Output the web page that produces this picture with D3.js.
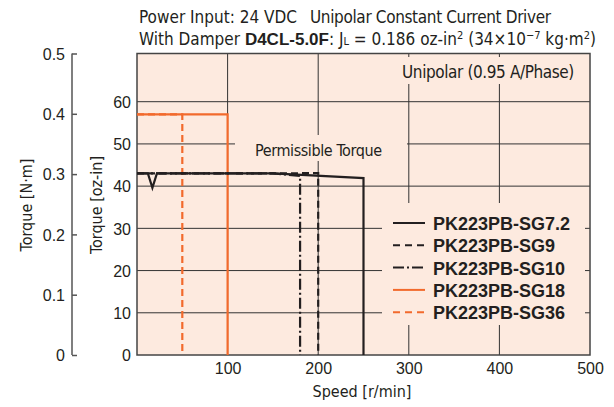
<!DOCTYPE html>
<html>

<head>
    <meta charset="utf-8">
    <style>
        body {
            margin: 0;
            background: #fff;
        }

        svg {
            display: block;
            font-family: "Liberation Sans Narrow", "DejaVu Sans Condensed", "Arial Narrow", sans-serif;
            fill: #231f20;
        }

        .tick text {
            font-size: 16px;
            fill: #231f20;
        }

        .domain {
            display: none;
        }

        .legend-label,
        .bold {
            font-family: "Liberation Sans", Arial, sans-serif;
            font-weight: bold;
        }
    </style>
</head>

<body>
    <svg width="614" height="407"></svg>
</body>

<script src="https://d3js.org/d3.v7.min.js"></script>

<script>
    // values
    let speedTicks = [100, 200, 300, 400, 500]
    let ozTicks = [0, 10, 20, 30, 40, 50, 60]
    let nmTicks = [0, 0.1, 0.2, 0.3, 0.4, 0.5]
    let gridSpeeds = [100, 200, 300, 400]
    let gridOz = [10, 20, 30, 40, 50, 60]

    let seriesNames = ["PK223PB-SG7.2", "PK223PB-SG9", "PK223PB-SG10", "PK223PB-SG18", "PK223PB-SG36"]

    // [speed r/min, torque oz-in]
    let sg72 = [[0, 43], [12, 43], [17, 39.6], [22, 43], [150, 43], [250, 41.9], [250, 0]]
    let sg9 = [[0, 43], [150, 43], [200, 43.1], [200, 0]]
    let sg10 = [[0, 43], [150, 43], [180, 42.4], [180, 0]]
    let sg18 = [[0, 57], [100, 57], [100, 0]]
    let sg36 = [[0, 57], [50, 57], [50, 0]]

    let svg = d3.select("svg")

    let bgColor = "#fdeadf"
    let orange = "#f26a2c"
    let ink = "#231f20"

    let x = d3.scaleLinear()
        .domain([0, 500])
        .range([137, 590])

    let y = d3.scaleLinear()   // oz-in
        .domain([0, 60])
        .range([355, 101.7])

    let yNm = d3.scaleLinear()
        .domain([0, 0.5])
        .range([355, 53.5])

    // plot background
    svg.append("rect")
        .attr("x", x(0))
        .attr("y", yNm(0.5))
        .attr("width", x(500) - x(0))
        .attr("height", yNm(0) - yNm(0.5))
        .style("fill", bgColor)

    // grid
    let grid = svg.append("g")
        .style("stroke", "#333")
        .style("stroke-width", "1px")

    grid.selectAll(".vgrid")
        .data(gridSpeeds)
        .join("line")
        .attr("x1", d => x(d))
        .attr("x2", d => x(d))
        .attr("y1", yNm(0.5))
        .attr("y2", yNm(0))

    grid.selectAll(".hgrid")
        .data(gridOz)
        .join("line")
        .attr("x1", x(0))
        .attr("x2", x(500))
        .attr("y1", d => y(d))
        .attr("y2", d => y(d))

    // knock the grid out behind the labels / legend
    let knockouts = [
        { x0: 235, x1: 407, y0: 135, y1: 161 },   // Permissible Torque
        { x0: 398, x1: 584, y0: 57, y1: 84 },     // Unipolar
        { x0: 382, x1: 585, y0: 203, y1: 325 }    // legend
    ]
    svg.append("g")
        .selectAll("rect")
        .data(knockouts)
        .join("rect")
        .attr("x", d => d.x0)
        .attr("y", d => d.y0)
        .attr("width", d => d.x1 - d.x0)
        .attr("height", d => d.y1 - d.y0)
        .style("fill", bgColor)

    // frame
    svg.append("rect")
        .attr("x", x(0))
        .attr("y", yNm(0.5))
        .attr("width", x(500) - x(0))
        .attr("height", yNm(0) - yNm(0.5))
        .style("fill", "none")
        .style("stroke", "#444")
        .style("stroke-width", "1.5px")

    // curves
    let line = d3.line()
        .x(d => x(d[0]))
        .y(d => y(d[1]))

    let curves = [
        { name: seriesNames[4], pts: sg36, color: orange, dash: "7,4" },
        { name: seriesNames[3], pts: sg18, color: orange, dash: null },
        { name: seriesNames[1], pts: sg9, color: ink, dash: "7,4" },
        { name: seriesNames[2], pts: sg10, color: ink, dash: "11,3,2,3" },
        { name: seriesNames[0], pts: sg72, color: ink, dash: null }
    ]

    svg.append("g")
        .selectAll("path")
        .data(curves)
        .join("path")
        .attr("d", d => line(d.pts))
        .style("fill", "none")
        .style("stroke", d => d.color)
        .style("stroke-width", "2.2px")
        .style("stroke-dasharray", d => d.dash)

    // axes
    let xAxisSettings = d3.axisBottom(x)
        .tickValues(speedTicks)
        .tickSize(0)
        .tickPadding(8)

    svg.append("g")
        .attr("class", "x axis")
        .attr("transform", `translate(0,${y(0)})`)
        .call(xAxisSettings)

    let yAxisSettings = d3.axisLeft(y)
        .tickValues(ozTicks)
        .tickSize(0)
        .tickPadding(6)

    svg.append("g")
        .attr("class", "y axis")
        .attr("transform", `translate(${x(0)},0)`)
        .call(yAxisSettings)
        .selectAll(".tick text")
        .attr("dy", "0.36em")

    let nmAxisSettings = d3.axisRight(yNm)
        .tickValues(nmTicks)
        .tickSize(5)
        .tickFormat(d => d == 0 ? "0" : d3.format(".1f")(d))

    let nmAxis = svg.append("g")
        .attr("class", "nm axis")
        .attr("transform", "translate(72,0)")
        .call(nmAxisSettings)

    nmAxis.selectAll(".tick line")
        .style("stroke", "#555")
        .style("stroke-width", "1.5px")
    nmAxis.selectAll(".tick text")
        .attr("x", -7)
        .attr("dy", "0.36em")
        .style("text-anchor", "end")

    nmAxis.append("line")
        .attr("y1", yNm(0))
        .attr("y2", yNm(0.5))
        .style("stroke", "#555")
        .style("stroke-width", "1.5px")

    // axis titles
    svg.append("text")
        .attr("transform", "translate(32,205) rotate(-90)")
        .attr("text-anchor", "middle")
        .style("font-size", "16px")
        .text("Torque [N·m]")

    svg.append("text")
        .attr("transform", "translate(102,205) rotate(-90)")
        .attr("text-anchor", "middle")
        .style("font-size", "16px")
        .text("Torque [oz-in]")

    svg.append("text")
        .attr("x", 362)
        .attr("y", 397)
        .attr("text-anchor", "middle")
        .style("font-size", "16px")
        .text("Speed [r/min]")

    // headline
    let t1 = svg.append("text")
        .attr("y", 23)
        .style("font-size", "17px")
    t1.append("tspan").attr("x", 139).text("Power Input: 24 VDC")
    t1.append("tspan").attr("x", 310).style("letter-spacing", "-0.35px").text("Unipolar Constant Current Driver")

    let t2 = svg.append("text")
        .attr("x", 139)
        .attr("y", 45)
        .style("font-size", "17px")
    t2.append("tspan").text("With Damper ")
    t2.append("tspan").attr("class", "bold").text("D4CL-5.0F")
    t2.append("tspan").text(": J")
    t2.append("tspan").style("font-size", "11px").text("L")
    t2.append("tspan").text(" = 0.186 oz-in")
    t2.append("tspan").attr("dy", -6).style("font-size", "11px").text("2")
    t2.append("tspan").attr("dy", 6).text(" (34×10")
    t2.append("tspan").attr("dy", -6).style("font-size", "11px").text("−7")
    t2.append("tspan").attr("dy", 6).text(" kg·m")
    t2.append("tspan").attr("dy", -6).style("font-size", "11px").text("2")
    t2.append("tspan").attr("dy", 6).text(")")

    // in-plot labels
    svg.append("text")
        .attr("x", 255)
        .attr("y", 156)
        .style("font-size", "16px")
        .style("letter-spacing", "-0.4px")
        .text("Permissible Torque")

    svg.append("text")
        .attr("x", 488)
        .attr("y", 78)
        .attr("text-anchor", "middle")
        .style("font-size", "17px")
        .style("letter-spacing", "-0.4px")
        .text("Unipolar (0.95 A/Phase)")

    // legend
    let legendOrder = [
        { name: seriesNames[0], color: ink, dash: null },
        { name: seriesNames[1], color: ink, dash: "7,5" },
        { name: seriesNames[2], color: ink, dash: "11,3,2,3" },
        { name: seriesNames[3], color: orange, dash: null },
        { name: seriesNames[4], color: orange, dash: "7,5" }
    ]

    let legend = svg.append("g")
        .selectAll("g")
        .data(legendOrder)
        .join("g")
        .attr("transform", (d, i) => `translate(393,${230 + i * 22.3})`)

    legend.append("line")
        .attr("x1", 0)
        .attr("x2", 32)
        .attr("y1", -7)
        .attr("y2", -7)
        .style("stroke", d => d.color)
        .style("stroke-width", "2px")
        .style("stroke-dasharray", d => d.dash)

    legend.append("text")
        .attr("class", "legend-label")
        .attr("x", 40)
        .style("font-size", "18px")
        .text(d => d.name)

</script>

</html>
